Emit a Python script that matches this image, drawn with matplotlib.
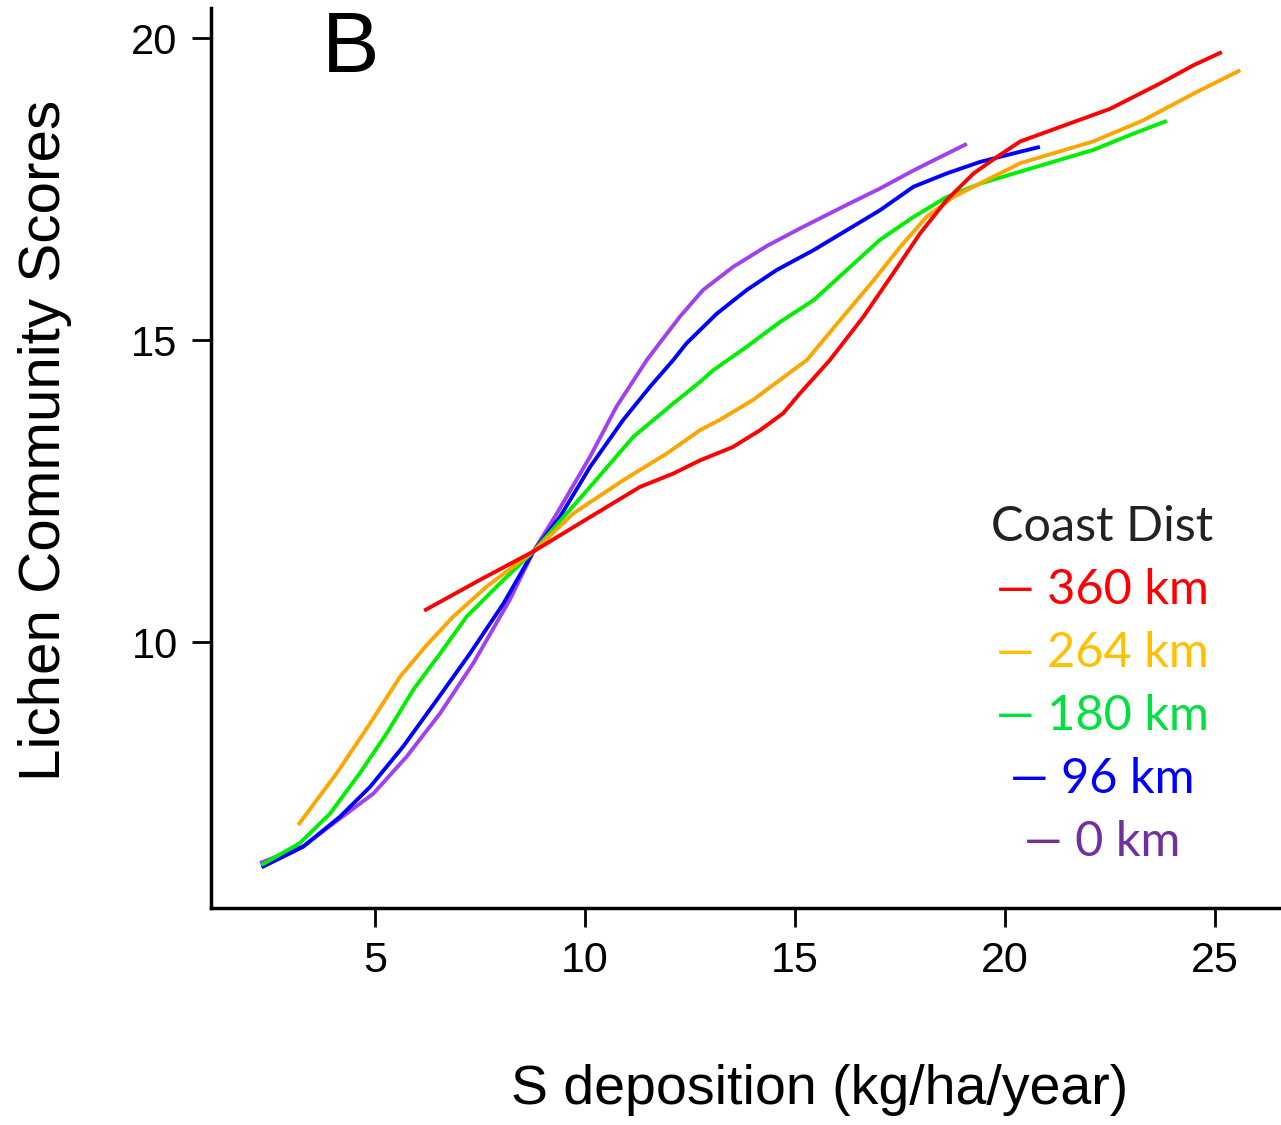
import matplotlib
matplotlib.use("Agg")
import matplotlib.pyplot as plt

# S deposition (kg/ha/year) vs lichen community scores, one curve per coast distance
red_x = [6.17, 7.5, 8.77, 10.12, 11.31, 12.1, 12.74, 13.52, 14.17, 14.72, 15.12, 15.83,
         16.63, 17.34, 17.98, 18.61, 19.25, 19.8, 20.36, 21.31, 22.5, 23.69, 24.48, 25.16]
red_y = [10.52, 11.03, 11.5, 12.07, 12.57, 12.79, 13.01, 13.23, 13.51, 13.79, 14.12, 14.67,
         15.39, 16.11, 16.77, 17.32, 17.76, 18.03, 18.29, 18.53, 18.83, 19.25, 19.55, 19.77]

orange_x = [3.17, 4.09, 4.88, 5.6, 6.23, 6.86, 7.66, 8.77, 9.72, 10.91, 11.94, 12.74, 13.21, 14.0,
            14.64, 15.28, 16.07, 16.87, 17.5, 18.13, 18.77, 19.56, 20.36, 22.1, 23.29, 24.48, 25.6]
orange_y = [6.97, 7.83, 8.65, 9.43, 9.95, 10.42, 10.92, 11.5, 12.13, 12.68, 13.12, 13.51, 13.68, 14.01,
            14.34, 14.67, 15.33, 15.99, 16.54, 17.04, 17.37, 17.65, 17.93, 18.29, 18.64, 19.08, 19.47]

green_x = [2.30, 3.21, 3.93, 4.64, 5.28, 5.91, 6.55, 7.18, 8.06, 8.77, 10.12, 11.15, 12.1, 12.74,
           13.05, 13.85, 14.64, 15.44, 16.23, 17.02, 17.82, 18.61, 19.4, 20.36, 22.1, 23.06, 23.85]
green_y = [6.31, 6.67, 7.16, 7.83, 8.49, 9.21, 9.81, 10.42, 11.03, 11.5, 12.57, 13.40, 13.95, 14.31,
           14.50, 14.89, 15.30, 15.66, 16.16, 16.66, 17.04, 17.37, 17.59, 17.79, 18.15, 18.42, 18.63]

blue_x = [2.30, 3.29, 4.17, 4.88, 5.67, 6.47, 7.26, 8.06, 8.77, 9.40, 10.12, 10.91, 11.55,
          12.1, 12.42, 13.14, 13.85, 14.56, 15.44, 16.23, 17.02, 17.82, 18.61, 19.4, 20.36, 20.83]
blue_y = [6.27, 6.61, 7.11, 7.60, 8.27, 9.04, 9.81, 10.64, 11.5, 12.07, 12.90, 13.68, 14.23,
          14.67, 14.95, 15.44, 15.83, 16.16, 16.49, 16.82, 17.15, 17.54, 17.76, 17.95, 18.12, 18.20]

purple_x = [2.26, 3.29, 4.17, 4.96, 5.75, 6.55, 7.34, 8.21, 8.77, 9.33, 10.12, 10.75, 11.47,
            11.71, 12.26, 12.81, 13.52, 14.33, 15.12, 16.23, 17.02, 17.82, 18.45, 19.09]
purple_y = [6.34, 6.62, 7.08, 7.49, 8.10, 8.82, 9.65, 10.70, 11.5, 12.13, 13.07, 13.90, 14.67,
            14.89, 15.39, 15.83, 16.21, 16.56, 16.85, 17.24, 17.51, 17.81, 18.03, 18.25]

labels = ["360 km", "264 km", "180 km", "96 km", "0 km"]
line_colors = ["#ff0000", "#ffa500", "#00ee00", "#0000ff", "#a040f0"]
text_colors = ["#ff0000", "#ffc000", "#00e040", "#0000ff", "#7030a0"]
xticks = [5, 10, 15, 20, 25]
yticks = [10, 15, 20]

arial = ["Liberation Sans", "DejaVu Sans"]

fig = plt.figure(figsize=(12.81, 11.25), dpi=100)
ax = fig.add_axes([211 / 1281, 1 - 908 / 1125, 1 - 211 / 1281, 900 / 1125])

series = [(red_x, red_y), (orange_x, orange_y), (green_x, green_y),
          (blue_x, blue_y), (purple_x, purple_y)]
# purple first so the others sit on top, as in the original
for (xs, ys), c in reversed(list(zip(series, line_colors))):
    ax.plot(xs, ys, color=c, lw=2.8, solid_capstyle="butt", solid_joinstyle="round")

ax.set_xlim(1.095, 26.57)
ax.set_ylim(5.596, 20.5)
ax.set_xticks(xticks)
ax.set_yticks(yticks)

for s in ["top", "right"]:
    ax.spines[s].set_visible(False)
for s in ["left", "bottom"]:
    ax.spines[s].set_linewidth(2.5)
ax.tick_params(length=14, width=2, pad=10)
ax.tick_params(axis="x", labelsize=31)
ax.tick_params(axis="y", labelsize=30)
for t in ax.get_xticklabels() + ax.get_yticklabels():
    t.set_family(arial)

ax.set_xlabel("S deposition (kg/ha/year)", fontsize=40, family=arial)
ax.xaxis.label.set_va("center")
ax.xaxis.set_label_coords(0.569, -0.202)
ax.set_ylabel("Lichen Community Scores", fontsize=42, family=arial)
ax.yaxis.label.set_va("center")
ax.yaxis.set_label_coords(-0.155, 0.52)

ax.text(0.1037, 0.953, "B", transform=ax.transAxes, fontsize=62,
        family=arial, ha="left", va="center")

# legend drawn as centred text rows
leg_x = 0.8327
ax.text(leg_x, (908 - 527) / 900, "Coast Dist", transform=ax.transAxes,
        fontsize=35, family=["Lato", "DejaVu Sans"], color="#222222",
        ha="center", va="center")
for i, (lab, c) in enumerate(zip(labels, text_colors)):
    ax.text(leg_x, (908 - 590 - 63 * i) / 900, "\u2014 " + lab, transform=ax.transAxes,
            fontsize=35, family=["Lato", "DejaVu Sans"], color=c,
            ha="center", va="center")

fig.savefig("out.png", dpi=100)
